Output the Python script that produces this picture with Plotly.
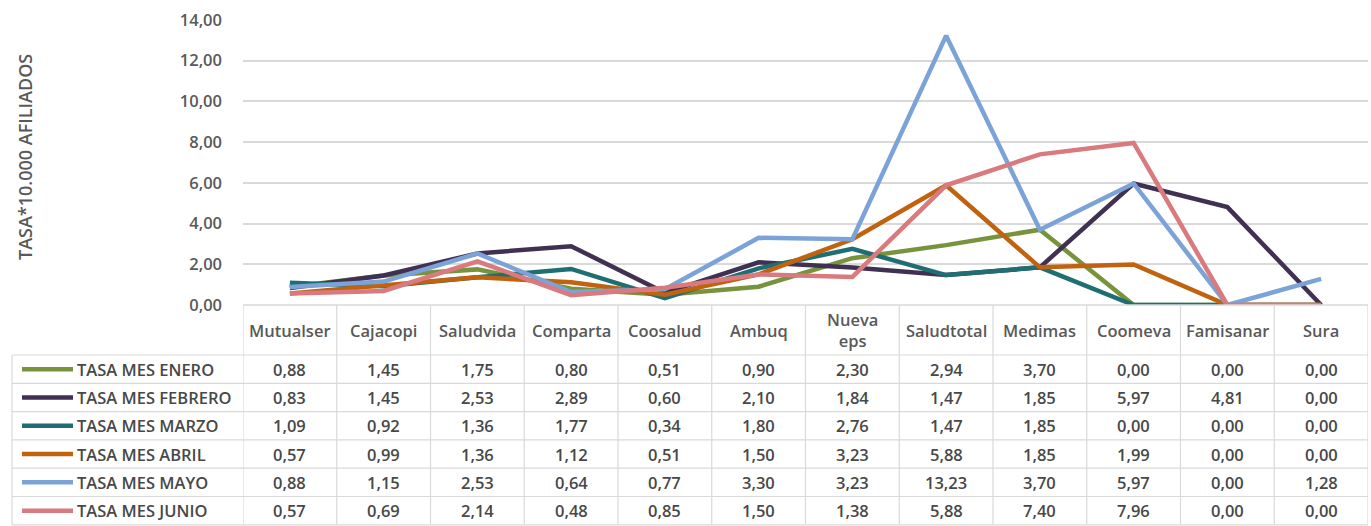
import plotly.graph_objects as go

W, H = 1371, 526

categories = ["Mutualser", "Cajacopi", "Saludvida", "Comparta", "Coosalud", "Ambuq",
              "Nueva eps", "Saludtotal", "Medimas", "Coomeva", "Famisanar", "Sura"]

series_names = ["TASA MES ENERO", "TASA MES FEBRERO", "TASA MES MARZO",
                "TASA MES ABRIL", "TASA MES MAYO", "TASA MES JUNIO"]

enero   = [0.88, 1.45, 1.75, 0.80, 0.51, 0.90, 2.30, 2.94, 3.70, 0.00, 0.00, 0.00]
febrero = [0.83, 1.45, 2.53, 2.89, 0.60, 2.10, 1.84, 1.47, 1.85, 5.97, 4.81, 0.00]
marzo   = [1.09, 0.92, 1.36, 1.77, 0.34, 1.80, 2.76, 1.47, 1.85, 0.00, 0.00, 0.00]
abril   = [0.57, 0.99, 1.36, 1.12, 0.51, 1.50, 3.23, 5.88, 1.85, 1.99, 0.00, 0.00]
mayo    = [0.88, 1.15, 2.53, 0.64, 0.77, 3.30, 3.23, 13.23, 3.70, 5.97, 0.00, 1.28]
junio   = [0.57, 0.69, 2.14, 0.48, 0.85, 1.50, 1.38, 5.88, 7.40, 7.96, 0.00, 0.00]

series_values = [enero, febrero, marzo, abril, mayo, junio]
colors = ["#77933C", "#403152", "#1F6E73", "#C0620F", "#7BA3D8", "#D97A7E"]

y_ticks = [0, 2, 4, 6, 8, 10, 12, 14]

FONT = "Open Sans"
TXT = "#484848"
TXT2 = "#595959"
GRID = "#D9D9D9"
WT = 600

def py(y):
    return 1 - y / H

def px(x):
    return x / W

plot_left, plot_right = 243, 1368
plot_top, plot_bottom = 20, 305
header_bottom = 355
row_h = 28.3
table_left = 12

fig = go.Figure()
for name, vals, c in zip(series_names, series_values, colors):
    fig.add_trace(go.Scatter(x=categories, y=vals, mode="lines", name=name,
                             line=dict(color=c, width=4.5), showlegend=False,
                             hoverinfo="skip"))

shapes = []
annotations = []

shapes.append(dict(type="line", xref="paper", yref="paper",
                   x0=px(plot_left), x1=px(plot_right), y0=py(plot_bottom), y1=py(plot_bottom),
                   line=dict(color=GRID, width=1.5)))
for k in range(len(series_names) + 1):
    yy = header_bottom + k * row_h
    shapes.append(dict(type="line", xref="paper", yref="paper",
                       x0=px(table_left), x1=px(plot_right), y0=py(yy), y1=py(yy),
                       line=dict(color=GRID, width=1.2)))
n = len(categories)
for i in range(n + 1):
    shapes.append(dict(type="line", xref="x", yref="paper",
                       x0=i - 0.5, x1=i - 0.5, y0=py(plot_bottom), y1=py(header_bottom + 6 * row_h),
                       line=dict(color=GRID, width=1.2)))
shapes.append(dict(type="line", xref="paper", yref="paper",
                   x0=px(table_left), x1=px(table_left), y0=py(header_bottom),
                   y1=py(header_bottom + 6 * row_h), line=dict(color=GRID, width=1.2)))

for cat in categories:
    lab = cat.replace(" ", "<br>") if cat == "Nueva eps" else cat
    annotations.append(dict(x=cat, xref="x", y=py(330), yref="paper", text=lab,
                            showarrow=False,
                            font=dict(family=FONT, size=16.5, color=TXT2, weight=WT),
                            xanchor="center", yanchor="middle"))

for r, (name, vals, c) in enumerate(zip(series_names, series_values, colors)):
    yc = header_bottom + (r + 0.5) * row_h
    shapes.append(dict(type="line", xref="paper", yref="paper",
                       x0=px(22), x1=px(73), y0=py(yc), y1=py(yc),
                       line=dict(color=c, width=4.5)))
    annotations.append(dict(x=px(75), xref="paper", y=py(yc), yref="paper", text=name,
                            showarrow=False,
                            font=dict(family=FONT, size=16.5, color=TXT, weight=WT),
                            xanchor="left", yanchor="middle"))
    for cat, v in zip(categories, vals):
        annotations.append(dict(x=cat, xref="x", y=py(yc), yref="paper",
                                text=f"{v:.2f}".replace(".", ","),
                                showarrow=False,
                                font=dict(family=FONT, size=16.5, color=TXT, weight=WT),
                                xanchor="center", yanchor="middle"))

annotations.append(dict(x=px(25), xref="paper", y=py(157), yref="paper",
                        text="TASA*10.000 AFILIADOS", textangle=-90, showarrow=False,
                        font=dict(family=FONT, size=18, color=TXT2, weight=WT),
                        xanchor="center", yanchor="middle"))

fig.update_layout(
    width=W, height=H,
    margin=dict(l=0, r=0, t=0, b=0, autoexpand=False),
    paper_bgcolor="white", plot_bgcolor="white",
    separators=",.",
    xaxis=dict(type="category", range=[-0.5, n - 0.5],
               domain=[px(plot_left), px(plot_right)],
               showticklabels=False, showgrid=False, zeroline=False, showline=False,
               automargin=False),
    yaxis=dict(range=[0, 14], domain=[py(plot_bottom), py(plot_top)],
               tickvals=y_ticks, tickformat=".2f",
               tickfont=dict(family=FONT, size=16.5, color=TXT2, weight=WT),
               showgrid=True, gridcolor=GRID, gridwidth=1.5, zeroline=False,
               showline=False, ticks="", ticklabelstandoff=20, automargin=False),
    shapes=shapes,
    annotations=annotations,
)

fig.write_html("out.html", config={"displayModeBar": False},
               post_script="document.body.style.margin='0px';document.body.style.overflow='hidden';")
